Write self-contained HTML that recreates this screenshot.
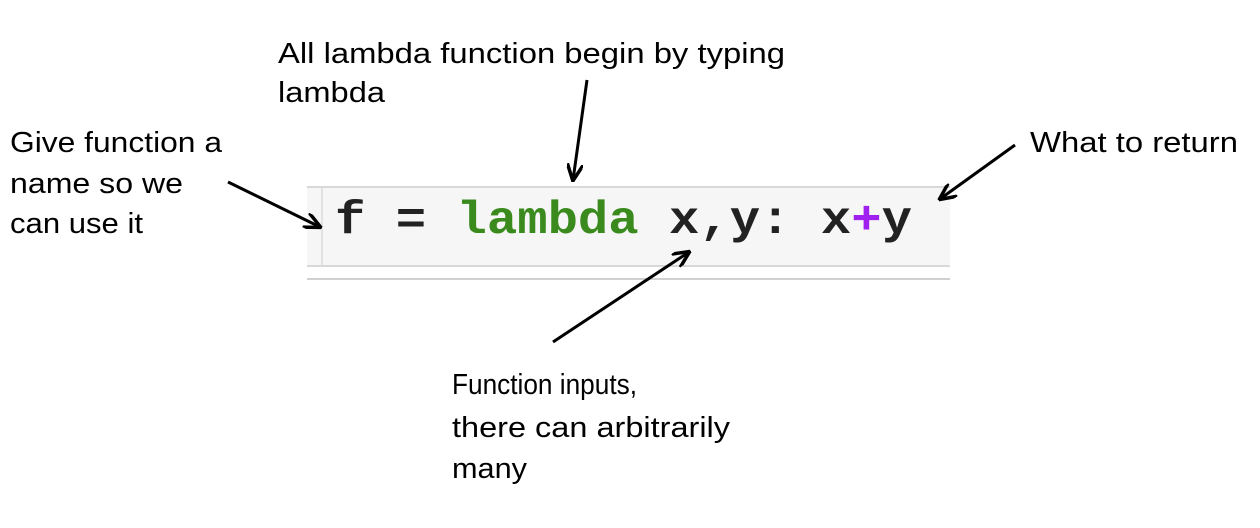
<!DOCTYPE html>
<html><head><meta charset="utf-8"><style>
html,body{margin:0;padding:0;background:#fff;}
svg{display:block}
.t{font-family:"Liberation Sans",sans-serif;font-size:29px;fill:#000}
.c{font-family:"Liberation Mono",monospace;font-size:46px;font-weight:bold}
</style></head><body>
<svg width="1260" height="528" viewBox="0 0 1260 528" xmlns="http://www.w3.org/2000/svg">
<defs>
<marker id="h" markerWidth="18" markerHeight="16" refX="16" refY="8" orient="auto" markerUnits="userSpaceOnUse"><path d="M0,0 L17,8 L0,16" fill="none" stroke="#000" stroke-width="3.5"/></marker></defs>
<rect x="307" y="187" width="643" height="79" fill="#f6f6f6"/>
<line x1="307" y1="187" x2="950" y2="187" stroke="#d8d8d8" stroke-width="2"/>
<line x1="307" y1="266" x2="950" y2="266" stroke="#d8d8d8" stroke-width="2"/>
<line x1="322" y1="187" x2="322" y2="266" stroke="#dcdcdc" stroke-width="1.5"/>
<line x1="307" y1="279" x2="950" y2="279" stroke="#d0d0d0" stroke-width="2"/>
<text class="c" x="335" y="233" textLength="577" lengthAdjust="spacingAndGlyphs"><tspan fill="#222">f = </tspan><tspan fill="#3a8a1e">lambda</tspan><tspan fill="#222"> x,y: x</tspan><tspan fill="#a020f0">+</tspan><tspan fill="#222">y</tspan></text>
<g stroke="#000" stroke-width="3" fill="none">
<line x1="587" y1="80" x2="573" y2="180" marker-end="url(#h)"/>
<line x1="228" y1="182" x2="320" y2="227" marker-end="url(#h)"/>
<line x1="1015" y1="145" x2="940" y2="199" marker-end="url(#h)"/>
<line x1="553" y1="342" x2="689" y2="252" marker-end="url(#h)"/>
</g>
<text class="t" x="278" y="63" textLength="507" lengthAdjust="spacingAndGlyphs">All  lambda function begin by typing</text>
<text class="t" x="278" y="102" textLength="107" lengthAdjust="spacingAndGlyphs">lambda</text>
<text class="t" x="10" y="152" textLength="212" lengthAdjust="spacingAndGlyphs">Give function a</text>
<text class="t" x="10" y="193" textLength="173" lengthAdjust="spacingAndGlyphs">name so we</text>
<text class="t" x="10" y="233" textLength="133" lengthAdjust="spacingAndGlyphs">can use it</text>
<text class="t" x="1030" y="152" textLength="208" lengthAdjust="spacingAndGlyphs">What to return</text>
<text class="t" x="452" y="394" textLength="185" lengthAdjust="spacingAndGlyphs">Function inputs,</text>
<text class="t" x="452" y="437" textLength="278" lengthAdjust="spacingAndGlyphs">there can arbitrarily</text>
<text class="t" x="452" y="478" textLength="75" lengthAdjust="spacingAndGlyphs">many</text>
</svg>
</body></html>
